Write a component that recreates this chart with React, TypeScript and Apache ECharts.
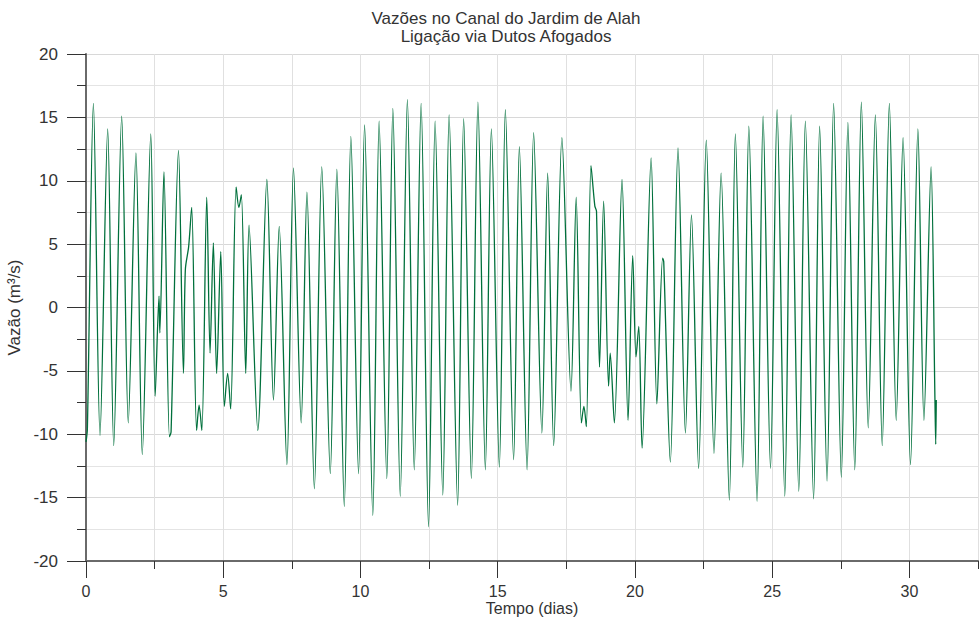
import React, { useEffect, useRef } from "react";
import * as echarts from "echarts";

const titulo = ["Vazões no Canal do Jardim de Alah", "Ligação via Dutos Afogados"];
const nomeX = "Tempo (dias)";
const nomeY = "Vazão (m³/s)";
const xTicks = [0, 5, 10, 15, 20, 25, 30];
const yTicks = [-20, -15, -10, -5, 0, 5, 10, 15, 20];
const xMaxDias = 32.5;

// [tempo (dias), vazão (m³/s)]
const semana1 = [
  [0.0, -10.6], [0.05, -9.6], [0.27, 16.1], [0.51, -10.1], [0.79, 14.1], [1.01, -10.9],
  [1.3, 15.1], [1.54, -9.1], [1.82, 12.2], [2.05, -11.6], [2.36, 13.7], [2.52, -7.0],
  [2.66, 0.9], [2.69, -2.0], [2.84, 10.7], [3.04, -10.2], [3.1, -9.8], [3.37, 12.4],
  [3.55, -5.2], [3.62, 3.0], [3.74, 4.8], [3.85, 7.9], [4.03, -9.7], [4.12, -7.7],
  [4.22, -9.7], [4.4, 8.7], [4.52, -3.6], [4.64, 5.1], [4.76, -5.2], [4.91, 4.4],
  [5.04, -7.8], [5.16, -5.2], [5.27, -8.0], [5.47, 9.5], [5.57, 7.9], [5.66, 8.9],
  [5.82, -5.2], [5.94, 6.5], [6.26, -9.7], [6.59, 10.1], [6.83, -7.3], [7.04, 6.4],
  [7.32, -12.4], [7.56, 11.0],
];
const semana2 = [
  [7.84, -9.1], [8.05, 9.1], [8.32, -14.3], [8.59, 11.1], [8.9, -13.1], [9.14, 10.9],
  [9.41, -15.7], [9.65, 13.5], [9.93, -13.1], [10.15, 14.4], [10.45, -16.4], [10.68, 14.7],
  [10.96, -13.5], [11.18, 15.7], [11.45, -14.9], [11.71, 16.4], [11.96, -12.8], [12.21, 16.1],
  [12.48, -17.3], [12.72, 14.7], [13.0, -14.8], [13.23, 15.2], [13.54, -15.6], [13.76, 14.9],
  [14.04, -13.5], [14.28, 16.2], [14.55, -12.8], [14.77, 14.1], [15.06, -12.6],
];
const semana3 = [
  [15.28, 15.6], [15.58, -12.0], [15.79, 12.7], [16.07, -12.8], [16.31, 13.8], [16.61, -9.9],
  [16.82, 10.6], [17.04, -10.9], [17.34, 13.4], [17.67, -6.6], [17.86, 8.7], [18.05, -9.1],
  [18.14, -7.8], [18.23, -9.4], [18.4, 11.2], [18.54, 8.0], [18.6, 7.6], [18.71, -4.7],
  [18.86, 8.4], [19.04, -6.2], [19.1, -3.6], [19.25, -9.1], [19.53, 10.1], [19.75, -8.9],
  [19.92, 4.1], [20.04, -3.9], [20.14, -1.5], [20.26, -11.1], [20.59, 11.8], [20.8, -7.6],
  [21.01, 3.9], [21.05, 3.6], [21.29, -12.2], [21.57, 12.6], [21.84, -9.9], [22.06, 7.3],
  [22.32, -12.7], [22.6, 13.2], [22.88, -11.5],
];
const semana4 = [
  [23.14, 10.6], [23.44, -15.2], [23.66, 13.7], [23.93, -12.6], [24.15, 14.3], [24.45, -15.3],
  [24.67, 15.1], [24.94, -12.7], [25.18, 15.6], [25.46, -14.9], [25.69, 15.2], [25.97, -14.5],
  [26.21, 14.7], [26.51, -15.1], [26.73, 14.3], [27.0, -13.7], [27.24, 16.1], [27.52, -13.4],
  [27.76, 14.6], [28.01, -12.8], [28.25, 16.2], [28.5, -9.5], [28.76, 15.2], [29.01, -10.9],
  [29.27, 16.1], [29.52, -8.9], [29.77, 13.4], [30.04, -12.4], [30.31, 14.1], [30.53, -8.9],
  [30.79, 11.1], [30.93, -7.1], [30.96, -10.8], [30.98, -7.3],
];

const FONT = '"Liberation Sans", Arial, sans-serif';
const W = 979;
const H = 617;
const GL = 86;
const GR = 1;
const GT = 54;
const GB = 56;

export default function App() {
  const ref = useRef<HTMLDivElement>(null);
  useEffect(() => {
    if (!ref.current) return;
    const chart = echarts.init(ref.current, undefined, { renderer: "svg" });
    const data = [...semana1, ...semana2, ...semana3, ...semana4];
    const plotW = W - GL - GR;
    const xLast = xTicks[xTicks.length - 1];
    const w30 = (plotW * xLast) / xMaxDias;
    const xStep = xTicks[1] - xTicks[0];
    const yStep = yTicks[1] - yTicks[0];
    const labelStyle = { color: "#333", fontSize: 17, fontFamily: FONT, lineHeight: 17 };
    const xLabelStyle = { color: "#333", fontSize: 16, fontFamily: FONT, lineHeight: 16 };
    chart.setOption({
      animation: false,
      backgroundColor: "#fff",
      graphic: [
        { type: "text", x: 506, y: 18, style: { text: titulo[0], font: `17px ${FONT}`, fill: "#333", textAlign: "center", textVerticalAlign: "middle" } },
        { type: "text", x: 506, y: 36, style: { text: titulo[1], font: `17px ${FONT}`, fill: "#333", textAlign: "center", textVerticalAlign: "middle" } },
      ],
      grid: [
        { left: GL, right: GR, top: GT, bottom: GB, containLabel: false, outerBoundsMode: "none" },
        { left: GL, width: w30, top: GT, bottom: GB, containLabel: false, outerBoundsMode: "none" },
      ],
      xAxis: [
        {
          type: "value",
          gridIndex: 0,
          min: 0,
          max: xMaxDias,
          interval: xStep / 2,
          name: nomeX,
          nameLocation: "middle",
          nameGap: 39,
          nameTextStyle: { ...xLabelStyle },
          axisLine: { show: true, onZero: false, lineStyle: { color: "#6a6a6a", width: 2 } },
          axisTick: { show: true, length: 8, lineStyle: { color: "#333", width: 1 } },
          axisLabel: { show: false },
          splitLine: { show: true, lineStyle: { color: "#e0e0e0", width: 1 } },
        },
        {
          type: "value",
          gridIndex: 1,
          min: xTicks[0],
          max: xLast,
          interval: xStep,
          axisLine: { show: false, onZero: false },
          axisTick: { show: true, length: 17, lineStyle: { color: "#333", width: 1 } },
          axisLabel: { ...xLabelStyle, margin: 22 },
          splitLine: { show: false },
        },
      ],
      yAxis: [
        {
          type: "value",
          gridIndex: 0,
          min: yTicks[0],
          max: yTicks[yTicks.length - 1],
          interval: yStep,
          name: nomeY,
          nameLocation: "middle",
          nameGap: 60,
          nameRotate: 90,
          nameTextStyle: { ...labelStyle },
          axisLine: { show: true, onZero: false, lineStyle: { color: "#6a6a6a", width: 2 } },
          axisTick: { show: true, length: 19, lineStyle: { color: "#333", width: 1 } },
          minorTick: { show: true, splitNumber: 2, length: 9, lineStyle: { color: "#333", width: 1 } },
          axisLabel: { ...labelStyle, margin: 28 },
          splitLine: { show: true, lineStyle: { color: "#d8d8d8", width: 1 } },
          minorSplitLine: { show: true, lineStyle: { color: "#e4e4e4", width: 1 } },
        },
        {
          type: "value",
          gridIndex: 1,
          min: yTicks[0],
          max: yTicks[yTicks.length - 1],
          show: false,
        },
      ],
      series: [
        {
          type: "line",
          xAxisIndex: 0,
          yAxisIndex: 0,
          data,
          showSymbol: false,
          smooth: 0.3,
          lineStyle: { color: "#00703c", width: 1.3 },
        },
      ],
    });
    return () => chart.dispose();
  }, []);
  return <div ref={ref} style={{ position: "fixed", left: 0, top: 0, width: W, height: H }} />;
}
